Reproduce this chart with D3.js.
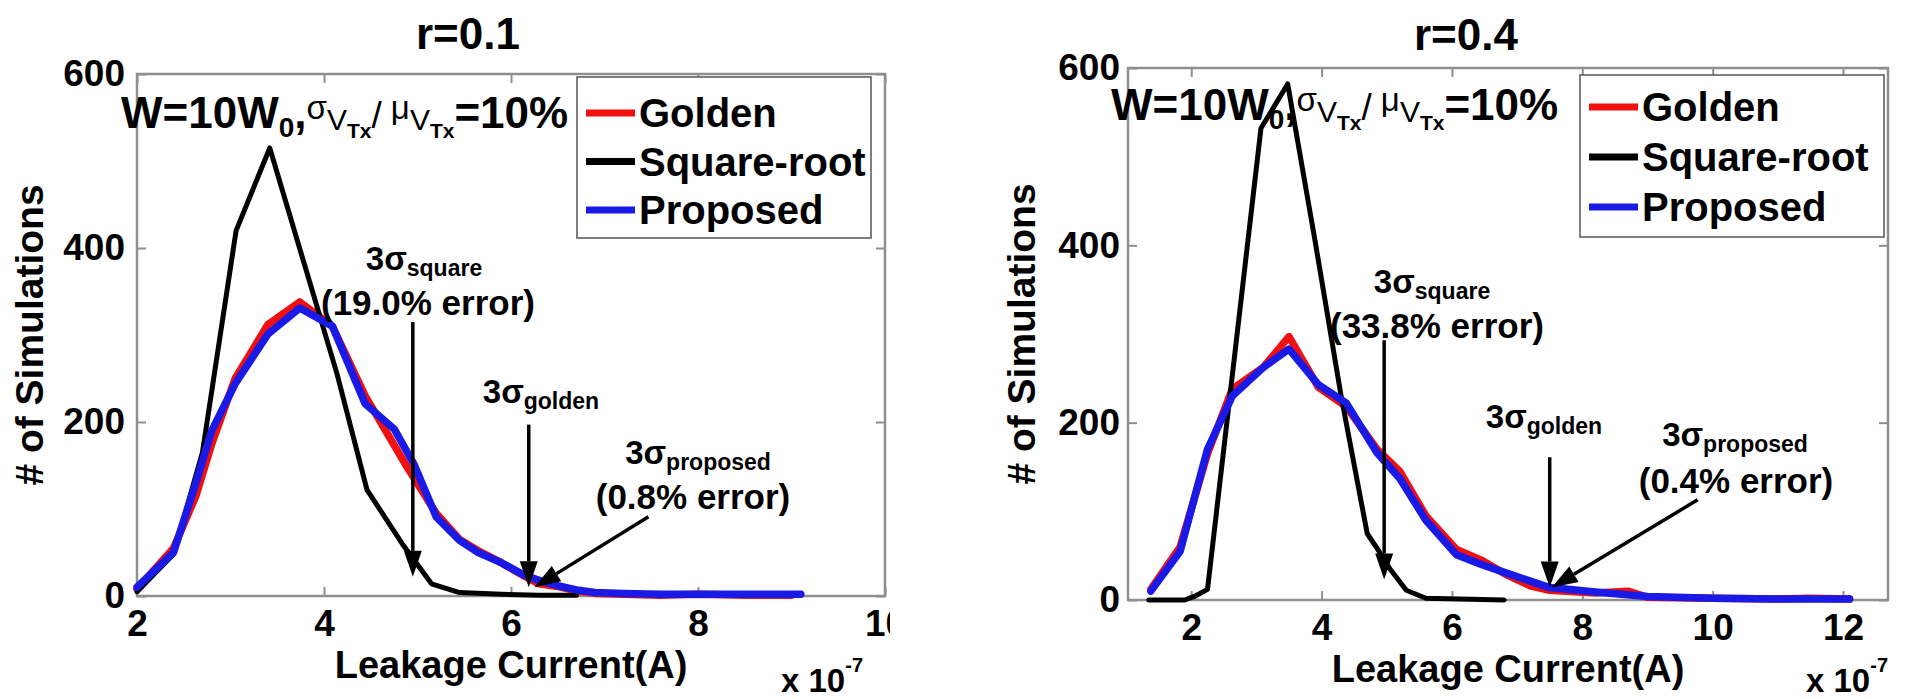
<!DOCTYPE html>
<html>
<head>
<meta charset="utf-8">
<script src="https://cdn.jsdelivr.net/npm/d3@7"></script>
<style>
  body { margin: 0; background: #fff; }
  svg { display: block; }
  text { font-family: "Liberation Sans", Arial, Helvetica, sans-serif; font-weight: bold; fill: #000; }
</style>
</head>
<body>
<svg id="chart" width="1907" height="699"></svg>
<script>
// ---- data -------------------------------------------------------------
const seriesNames = ["Golden", "Square-root", "Proposed"];
const yTickValues = [0, 200, 400, 600];
const xTicksR01 = [2, 4, 6, 8, 10];
const xTicksR04 = [2, 4, 6, 8, 10, 12];

// r = 0.1 histograms (leakage current in 1e-7 A, count)
const r01GoldenX   = [2.0, 2.39, 2.63, 2.8, 3.05, 3.4, 3.74, 4.09, 4.44, 4.72, 4.89, 5.2, 5.45, 5.65, 5.9, 6.14, 6.3, 6.5, 6.7, 6.9, 7.2, 7.6, 8.0, 8.5, 9.0];
const r01GoldenY   = [8, 55, 115, 175, 250, 312, 338, 310, 230, 179, 148, 95, 65, 52, 38, 23, 14, 11, 6, 3, 2, 1, 2, 1, 1];
const r01SquareX   = [2.0, 2.39, 2.7, 3.06, 3.42, 3.78, 4.14, 4.46, 4.85, 5.15, 5.45, 5.9, 6.3, 6.7];
const r01SquareY   = [5, 48, 165, 420, 515, 385, 255, 122, 58, 14, 4, 2, 1, 1];
const r01ProposedX = [2.0, 2.39, 2.63, 2.8, 3.05, 3.4, 3.74, 4.09, 4.44, 4.75, 4.96, 5.2, 5.45, 5.65, 5.9, 6.14, 6.3, 6.5, 6.7, 6.9, 7.2, 7.6, 8.0, 8.5, 9.1];
const r01ProposedY = [10, 50, 130, 190, 244, 301, 331, 310, 221, 192, 152, 91, 64, 50, 38, 24, 18, 12, 7, 4, 3, 2, 2, 2, 2];

// r = 0.4 histograms
const r04GoldenX   = [1.38, 1.83, 2.25, 2.63, 3.1, 3.5, 3.95, 4.38, 4.85, 5.2, 5.6, 6.07, 6.45, 6.85, 7.2, 7.5, 8.2, 8.7, 9.0, 10.0, 11.0, 11.5, 12.1];
const r04GoldenY   = [12, 60, 165, 238, 262, 297, 240, 218, 170, 145, 95, 57, 45, 28, 16, 11, 8, 10, 3, 2, 1, 2, 1];
const r04SquareX   = [1.35, 1.9, 2.05, 2.25, 3.07, 3.48, 3.9, 4.3, 4.7, 4.88, 5.05, 5.3, 5.6, 6.8];
const r04SquareY   = [0, 0, 4, 12, 532, 582, 405, 230, 75, 55, 35, 11, 2, 0];
const r04ProposedX = [1.38, 1.83, 2.25, 2.63, 3.1, 3.5, 3.95, 4.38, 4.85, 5.2, 5.6, 6.07, 6.45, 6.85, 7.5, 8.2, 9.0, 10.0, 11.0, 12.1];
const r04ProposedY = [10, 55, 170, 230, 262, 283, 243, 222, 166, 137, 90, 51, 40, 30, 14, 9, 4, 2, 1, 1];

// 3-sigma markers: arrow start (x0, y0) -> tip (x1, y1), in data units
const r01Arrows = [
  { x0: 4.95, y0: 315, x1: 4.95, y1: 22 },
  { x0: 6.19, y0: 197, x1: 6.19, y1: 10 },
  { x0: 7.47, y0: 91,  x1: 6.25, y1: 10 }
];
const r04Arrows = [
  { x0: 4.96, y0: 293, x1: 4.96, y1: 23 },
  { x0: 7.50, y0: 161, x1: 7.50, y1: 14 },
  { x0: 9.77, y0: 113, x1: 7.53, y1: 14 }
];
const r01Errors = ["(19.0% error)", "(0.8% error)"];
const r04Errors = ["(33.8% error)", "(0.4% error)"];

// ---- styling ----------------------------------------------------------
const colors = { "Golden": "#f01010", "Square-root": "#000000", "Proposed": "#1a1ae6" };
const widths = { "Golden": 7.5, "Square-root": 5, "Proposed": 7.5 };
const frameColor = "#8f8f8f";

const svg = d3.select("#chart");
svg.append("rect").attr("width", 1907).attr("height", 699).attr("fill", "#fff");

const defs = svg.append("defs");
defs.append("clipPath").attr("id", "clipLeft")
  .append("rect").attr("x", 0).attr("y", 0).attr("width", 890).attr("height", 699);

function richText(g, x, y, parts, anchor) {
  const t = g.append("text").attr("x", x).attr("y", y).attr("text-anchor", anchor || "start");
  let prev = 0;
  parts.forEach(p => {
    t.append("tspan")
      .attr("dy", p.shift - prev)
      .attr("font-size", p.size)
      .attr("font-weight", p.weight || "bold")
      .text(p.t);
    prev = p.shift;
  });
  return t;
}

function sigmaLabel(g, cx, y, sub) {
  return richText(g, cx, y, [
    { t: "3σ", size: 33, shift: 0 },
    { t: sub, size: 23, shift: 6 }
  ], "middle");
}

function drawPanel(p) {
  const g = svg.append("g");
  if (p.clip) g.attr("clip-path", `url(#${p.clip})`);

  const x = d3.scaleLinear().domain(p.xDomain).range([p.left, p.right]);
  const y = d3.scaleLinear().domain([0, 600]).range([p.bottom, p.top]);

  // title
  g.append("text").attr("x", p.titleX).attr("y", p.titleY)
    .attr("text-anchor", "middle").attr("font-size", 44).text(p.title);

  // axes with inward ticks (box style)
  const styleAxis = sel => {
    sel.select(".domain").remove();
    sel.selectAll(".tick line").attr("stroke", frameColor).attr("stroke-width", 2);
    sel.selectAll("text").attr("font-size", 37).attr("font-family", null).attr("fill", "#000");
  };
  g.append("g").attr("transform", `translate(0,${p.bottom})`)
    .call(d3.axisBottom(x).tickValues(p.xTicks).tickSize(-9).tickPadding(14).tickFormat(d3.format("d")))
    .call(styleAxis);
  g.append("g").attr("transform", `translate(0,${p.top})`)
    .call(d3.axisTop(x).tickValues(p.xTicks).tickSize(-9).tickFormat(""))
    .call(styleAxis);
  g.append("g").attr("transform", `translate(${p.left},0)`)
    .call(d3.axisLeft(y).tickValues(yTickValues).tickSize(-9).tickPadding(p.yPad).tickFormat(d3.format("d")))
    .call(styleAxis);
  g.append("g").attr("transform", `translate(${p.right},0)`)
    .call(d3.axisRight(y).tickValues(yTickValues).tickSize(-9).tickFormat(""))
    .call(styleAxis);

  // frame
  g.append("rect").attr("x", p.left).attr("y", p.top)
    .attr("width", p.right - p.left).attr("height", p.bottom - p.top)
    .attr("fill", "none").attr("stroke", frameColor).attr("stroke-width", 2.5);

  // curves
  const line = d3.line().x(d => x(d[0])).y(d => y(d[1]));
  p.series.forEach(s => {
    g.append("path").datum(d3.zip(s.x, s.y))
      .attr("d", line)
      .attr("fill", "none")
      .attr("stroke", colors[s.name])
      .attr("stroke-width", widths[s.name])
      .attr("stroke-linejoin", "round")
      .attr("stroke-linecap", "round");
  });

  // axis labels
  g.append("text").attr("x", p.xLabelX).attr("y", p.bottom + 82)
    .attr("text-anchor", "middle").attr("font-size", 38).text("Leakage Current(A)");
  richText(g, p.expX, 692, [
    { t: "x 10", size: 33, shift: 0 },
    { t: "-7", size: 20, shift: -20 }
  ]);
  g.append("text")
    .attr("transform", `translate(${p.yLabelX},${(p.top + p.bottom) / 2}) rotate(-90)`)
    .attr("text-anchor", "middle").attr("font-size", 39).text("# of Simulations");

  // legend
  const L = p.legend;
  const lg = g.append("g");
  lg.append("rect").attr("x", L.x).attr("y", L.y)
    .attr("width", L.w).attr("height", L.h)
    .attr("fill", "#fff").attr("stroke", "#555").attr("stroke-width", 1.5);
  seriesNames.forEach((name, i) => {
    const cy = L.y + L.firstRow + i * L.rowGap;
    lg.append("line")
      .attr("x1", L.x + 9).attr("x2", L.x + 58)
      .attr("y1", cy).attr("y2", cy)
      .attr("stroke", colors[name]).attr("stroke-width", 7);
    lg.append("text").attr("x", L.x + 62).attr("y", cy + 14)
      .attr("font-size", 40).text(name);
  });

  // condition label
  richText(g, p.condX, p.condY, [
    { t: "W=10W", size: 44, shift: 0 },
    { t: "0", size: 28, shift: 9 },
    { t: ",", size: 44, shift: 0 },
    { t: "σ", size: 33, weight: "normal", shift: -9 },
    { t: "V", size: 30, weight: "normal", shift: 2 },
    { t: "Tx", size: 21, shift: 10 },
    { t: "/", size: 37, weight: "normal", shift: 0 },
    { t: " μ", size: 33, weight: "normal", shift: -9 },
    { t: "V", size: 30, weight: "normal", shift: 2 },
    { t: "Tx", size: 21, shift: 10 },
    { t: "=10%", size: 44, shift: 0 }
  ]);

  // 3-sigma annotations
  const a = p.notes;
  sigmaLabel(g, a.squareX, a.squareY, "square");
  g.append("text").attr("x", a.squareErrX).attr("y", a.squareErrY)
    .attr("text-anchor", "middle").attr("font-size", 35).text(p.errors[0]);
  sigmaLabel(g, a.goldenX, a.goldenY, "golden");
  sigmaLabel(g, a.propX, a.propY, "proposed");
  g.append("text").attr("x", a.propErrX).attr("y", a.propErrY)
    .attr("text-anchor", "middle").attr("font-size", 35).text(p.errors[1]);

  p.arrows.forEach(ar => {
    const sx = x(ar.x0), sy = y(ar.y0), tx = x(ar.x1), ty = y(ar.y1);
    const ang = Math.atan2(ty - sy, tx - sx);
    const headLen = 26, headHalf = 9;
    const bx = tx - headLen * Math.cos(ang), by = ty - headLen * Math.sin(ang);
    g.append("line").attr("x1", sx).attr("y1", sy).attr("x2", bx).attr("y2", by)
      .attr("stroke", "#000").attr("stroke-width", 3.5);
    const nx = -Math.sin(ang) * headHalf, ny = Math.cos(ang) * headHalf;
    g.append("path")
      .attr("d", `M${tx},${ty}L${bx + nx},${by + ny}L${bx - nx},${by - ny}Z`)
      .attr("fill", "#000");
  });
}

drawPanel({
  title: "r=0.1", titleX: 468, titleY: 49,
  clip: "clipLeft",
  xDomain: [2, 10], xTicks: xTicksR01,
  left: 137, right: 885, top: 74, bottom: 596, yPad: 12,
  xLabelX: 511, expX: 781, yLabelX: 43,
  legend: { x: 577, y: 77, w: 294, h: 161, firstRow: 36, rowGap: 48.5 },
  condX: 121, condY: 128,
  series: [
    { name: "Golden", x: r01GoldenX, y: r01GoldenY },
    { name: "Square-root", x: r01SquareX, y: r01SquareY },
    { name: "Proposed", x: r01ProposedX, y: r01ProposedY }
  ],
  errors: r01Errors,
  arrows: r01Arrows,
  notes: { squareX: 424, squareY: 270, squareErrX: 428, squareErrY: 315,
           goldenX: 541, goldenY: 403, propX: 698, propY: 464, propErrX: 693, propErrY: 509 }
});

drawPanel({
  title: "r=0.4", titleX: 1466, titleY: 50,
  xDomain: [1.03, 12.69], xTicks: xTicksR04,
  left: 1128, right: 1888, top: 68, bottom: 600, yPad: 8,
  xLabelX: 1508, expX: 1806, yLabelX: 1035,
  legend: { x: 1580, y: 75, w: 304, h: 162, firstRow: 32, rowGap: 50 },
  condX: 1111, condY: 120,
  series: [
    { name: "Golden", x: r04GoldenX, y: r04GoldenY },
    { name: "Square-root", x: r04SquareX, y: r04SquareY },
    { name: "Proposed", x: r04ProposedX, y: r04ProposedY }
  ],
  errors: r04Errors,
  arrows: r04Arrows,
  notes: { squareX: 1432, squareY: 293, squareErrX: 1437, squareErrY: 338,
           goldenX: 1544, goldenY: 428, propX: 1735, propY: 446, propErrX: 1736, propErrY: 493 }
});
</script>
</body>
</html>
